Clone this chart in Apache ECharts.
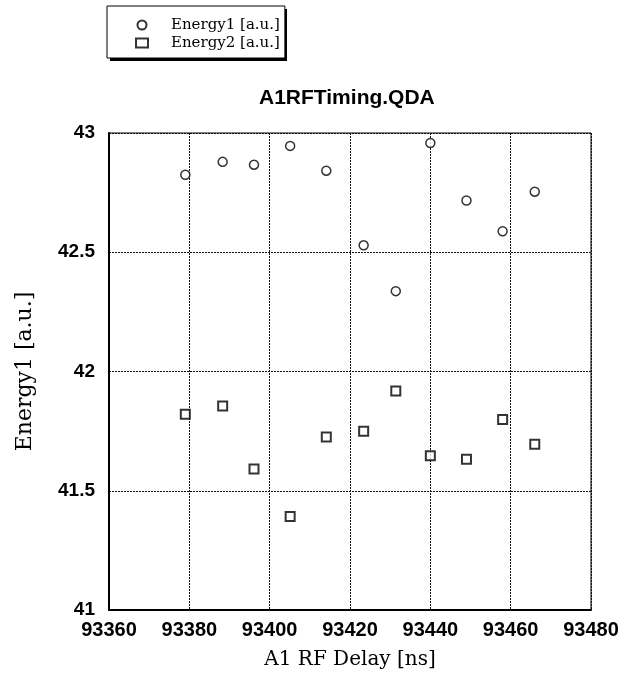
<!DOCTYPE html>
<html><head><meta charset="utf-8">
<script src="https://cdn.jsdelivr.net/npm/echarts@6/dist/echarts.min.js"></script>
<style>html,body{margin:0;padding:0;background:#fff}#c{width:624px;height:693px}</style>
</head><body><div id="c"></div>
<script>
const delay = [93379.0, 93388.3, 93396.1, 93405.1, 93414.1, 93423.4, 93431.4, 93440.0, 93449.0, 93458.0, 93466.0];
const energy1 = [42.825, 42.879, 42.867, 42.946, 42.842, 42.529, 42.337, 42.958, 42.717, 42.588, 42.754];
const energy2 = [41.821, 41.855, 41.591, 41.392, 41.725, 41.750, 41.918, 41.647, 41.632, 41.799, 41.695];
const seriesNames = ['Energy1 [a.u.]', 'Energy2 [a.u.]'];
const titleText = 'A1RFTiming.QDA';
const xTitle = 'A1 RF Delay [ns]';
const yTitle = 'Energy1 [a.u.]';

const chart = echarts.init(document.getElementById('c'));
const serif = '"DejaVu Serif", "Liberation Serif", serif';
const sans = '"Liberation Sans", Arial, sans-serif';
chart.setOption({
  animation: false,
  backgroundColor: '#fff',
  title: {
    text: titleText, left: 259, top: 88, padding: 0,
    textStyle: {fontFamily: sans, fontSize: 21, fontWeight: 'bold', color: '#000'}
  },
  graphic: [{
    type: 'rect', left: 110, top: 9, z: 1, silent: true,
    shape: {width: 177, height: 52},
    style: {fill: '#000'}
  }],
  legend: {
    orient: 'vertical', left: 107, top: 6, z: 5,
    padding: [10, 5, 6, 28],
    itemGap: 0, itemWidth: 12, itemHeight: 9,
    backgroundColor: '#fff', borderColor: '#000', borderWidth: 1,
    textStyle: {fontFamily: serif, fontSize: 15, color: '#000', lineHeight: 18, padding: [0, 0, 0, 18]},
    data: [
      {name: seriesNames[0], icon: 'circle'},
      {name: seriesNames[1], icon: 'rect'}
    ]
  },
  grid: {left: 109, right: 33, top: 133, bottom: 83, show: true, borderColor: '#000', borderWidth: 1},
  xAxis: {
    type: 'value', min: 93360, max: 93480, interval: 20,
    name: xTitle, nameLocation: 'middle', nameGap: 40,
    nameTextStyle: {fontFamily: serif, fontSize: 20, color: '#000'},
    axisLine: {show: true, onZero: false, lineStyle: {color: '#000', width: 2}},
    axisTick: {show: false},
    axisLabel: {fontFamily: sans, fontSize: 20, fontWeight: 'bold', color: '#000', margin: 10,
      formatter: v => String(v)},
    splitLine: {show: true, lineStyle: {color: '#111', width: 1, type: [2, 1]}}
  },
  yAxis: {
    type: 'value', min: 41, max: 43, interval: 0.5,
    name: yTitle, nameLocation: 'middle', nameGap: 73, nameRotate: 90,
    nameTextStyle: {fontFamily: serif, fontSize: 22, color: '#000'},
    axisLine: {show: true, onZero: false, lineStyle: {color: '#000', width: 2}},
    axisTick: {show: false},
    axisLabel: {fontFamily: sans, fontSize: 19, fontWeight: 'bold', color: '#000', margin: 14,
      formatter: v => String(v)},
    splitLine: {show: true, lineStyle: {color: '#111', width: 1, type: [2, 1]}}
  },
  series: [
    {
      name: seriesNames[0], type: 'scatter', symbol: 'circle', symbolSize: 9,
      itemStyle: {color: '#fff', borderColor: '#000', borderWidth: 1.5},
      data: delay.map((x, i) => [x, energy1[i]])
    },
    {
      name: seriesNames[1], type: 'scatter', symbol: 'rect', symbolSize: 9,
      itemStyle: {color: '#fff', borderColor: '#000', borderWidth: 2},
      data: delay.map((x, i) => [x, energy2[i]])
    }
  ]
});
</script></body></html>
